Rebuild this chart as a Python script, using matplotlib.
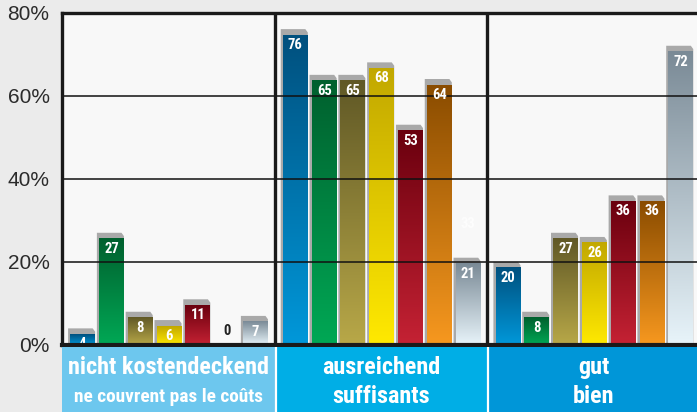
import numpy as np
import matplotlib
matplotlib.use('Agg')
import matplotlib.pyplot as plt
from matplotlib.patches import Polygon, Rectangle
from matplotlib.colors import LinearSegmentedColormap
from matplotlib import font_manager

# ---- data ----
groups_de = ['nicht kostendeckend', 'ausreichend', 'gut']
groups_fr = ['ne couvrent pas le coûts', 'suffisants', 'bien']
vals_nicht = [4, 27, 8, 6, 11, 0, 7]
vals_ausreichend = [76, 65, 65, 68, 53, 64, 21]
vals_gut = [20, 8, 27, 26, 36, 36, 72]
ghost_ausreichend_grey = 33   # faint leftover label visible in the reference
yticks = [0, 20, 40, 60, 80]
ytick_labels = ['0%', '20%', '40%', '60%', '80%']

# ---- style ----
bar_grad = [  # (top colour, bottom colour)
    ('#00507e', '#0098da'),
    ('#00602e', '#00a855'),
    ('#605826', '#b8a848'),
    ('#c2a800', '#ffe900'),
    ('#6a000e', '#c52234'),
    ('#8a4c00', '#f7981f'),
    ('#7a8a96', '#e8f4fa'),
]
band_colors = ['#6dc7ee', '#00aee6', '#0096d8']


def pick_font(cands):
    for c in cands:
        try:
            font_manager.findfont(c, fallback_to_default=False)
            return c
        except Exception:
            pass
    return 'DejaVu Sans'

num_font = pick_font(['Roboto Condensed', 'Archivo Narrow', 'Barlow Condensed', 'Liberation Sans Narrow', 'Roboto'])
band_font = pick_font(['Roboto Condensed', 'Archivo Narrow', 'Barlow Semi Condensed', 'Roboto'])
tick_font = pick_font(['Liberation Sans', 'Arimo', 'DejaVu Sans'])

W, H = 697, 412
fig = plt.figure(figsize=(W / 100, H / 100), dpi=100)
fig.patch.set_facecolor('#ebebeb')
renderer = fig.canvas.get_renderer()

left_px, top_px, base_px, right_px = 62, 12.5, 345, 700
ax = fig.add_axes([left_px / W, (H - base_px) / H, (right_px - left_px) / W, (base_px - top_px) / H])
ax.set_facecolor('#f8f8f8')
ngroups, nbars = 3, 7
ax.set_xlim(0, ngroups * nbars)
ax.set_ylim(0, 80)

all_vals = [vals_nicht, vals_ausreichend, vals_gut]
cap = 1.45      # height of grey cap in %
side = 0.07     # grey side strip width
bw = 0.82       # coloured bar width
pitch = 0.948
start = 0.27

grad = np.linspace(0, 1, 256).reshape(-1, 1)
for g, vals in enumerate(all_vals):
    for i, v in enumerate(vals):
        x0 = g * nbars + start + i * pitch
        x1 = x0 + bw
        if v > 0:
            poly = Polygon([(x0 - side, 0), (x0 - side, v), (x1 - 0.08, v),
                            (x1, v - cap * 0.55), (x1, 0)],
                           closed=True, facecolor='#a9a9a9', edgecolor='none', zorder=2)
            ax.add_patch(poly)
            top_c, bot_c = bar_grad[i]
            cmap = LinearSegmentedColormap.from_list('g', [bot_c, top_c])
            ax.imshow(grad, extent=[x0, x1, 0, v - cap], origin='lower', cmap=cmap,
                      aspect='auto', zorder=3, interpolation='bilinear')
            ax.text((x0 + x1) / 2, v - cap - 0.7, f'{v}', ha='center', va='top',
                    color='white', fontsize=10.5, fontweight='bold', family=num_font, zorder=6)
        else:
            ax.text((x0 + x1) / 2, 3.4, f'{v}', ha='center', va='center',
                    color='#222222', fontsize=10.5, fontweight='bold', family=num_font, zorder=6)

# faint ghost label
gx = 1 * nbars + start + 6 * pitch + bw / 2
ax.text(gx, ghost_ausreichend_grey - cap - 0.7, f'{ghost_ausreichend_grey}', ha='center', va='top',
        color='#fdfdfd', fontsize=10.5, fontweight='bold', family=num_font, zorder=1)

ax.set_xlim(0, ngroups * nbars)
ax.set_ylim(0, 80)

# grid lines
for y in yticks[1:-1]:
    ax.axhline(y, color='#111111', lw=1.1, zorder=4)
for g in range(1, ngroups):
    ax.axvline(g * nbars, color='#1a1a1a', lw=2.4, zorder=5)

ax.spines['right'].set_visible(False)
ax.spines['left'].set_linewidth(2.4)
ax.spines['top'].set_linewidth(2.4)
ax.spines['bottom'].set_linewidth(3.0)
for s in ['left', 'top', 'bottom']:
    ax.spines[s].set_color('#1a1a1a')
    ax.spines[s].set_zorder(7)

ax.set_xticks([])
ax.set_yticks(yticks)
ax.set_yticklabels(ytick_labels, fontsize=15, family=tick_font, color='#2b2b2b')
ax.tick_params(axis='y', length=0, pad=9)

# bottom band
band = fig.add_axes([left_px / W, 0, (right_px - left_px) / W, (H - base_px - 2) / H])
band.set_xlim(0, ngroups * nbars)
band.set_ylim(0, 1)
band.axis('off')


def fit_size(txt, target_px, base=14.0):
    t = fig.text(0, 0, txt, fontsize=base, fontweight='bold', family=band_font)
    w = t.get_window_extent(renderer=renderer).width
    t.remove()
    return base * target_px / w

fs1 = min(fit_size(groups_de[0], 201), 17.5)
fs2_first = min(fit_size(groups_fr[0], 190), fs1 * 0.86)
for g in range(ngroups):
    band.add_patch(Rectangle((g * nbars, 0), nbars, 1, facecolor=band_colors[g], edgecolor='none'))
    if g > 0:
        band.axvline(g * nbars + 0.03, color='white', lw=1.6)
    fs2 = fs2_first if g == 0 else fs1
    band.text(g * nbars + nbars / 2, 0.69, groups_de[g], ha='center', va='center', color='white',
              fontsize=fs1, fontweight='bold', family=band_font)
    band.text(g * nbars + nbars / 2, 0.235, groups_fr[g], ha='center', va='center', color='white',
              fontsize=fs2, fontweight='bold', family=band_font)

fig.savefig('out.png', dpi=100, facecolor=fig.get_facecolor())
